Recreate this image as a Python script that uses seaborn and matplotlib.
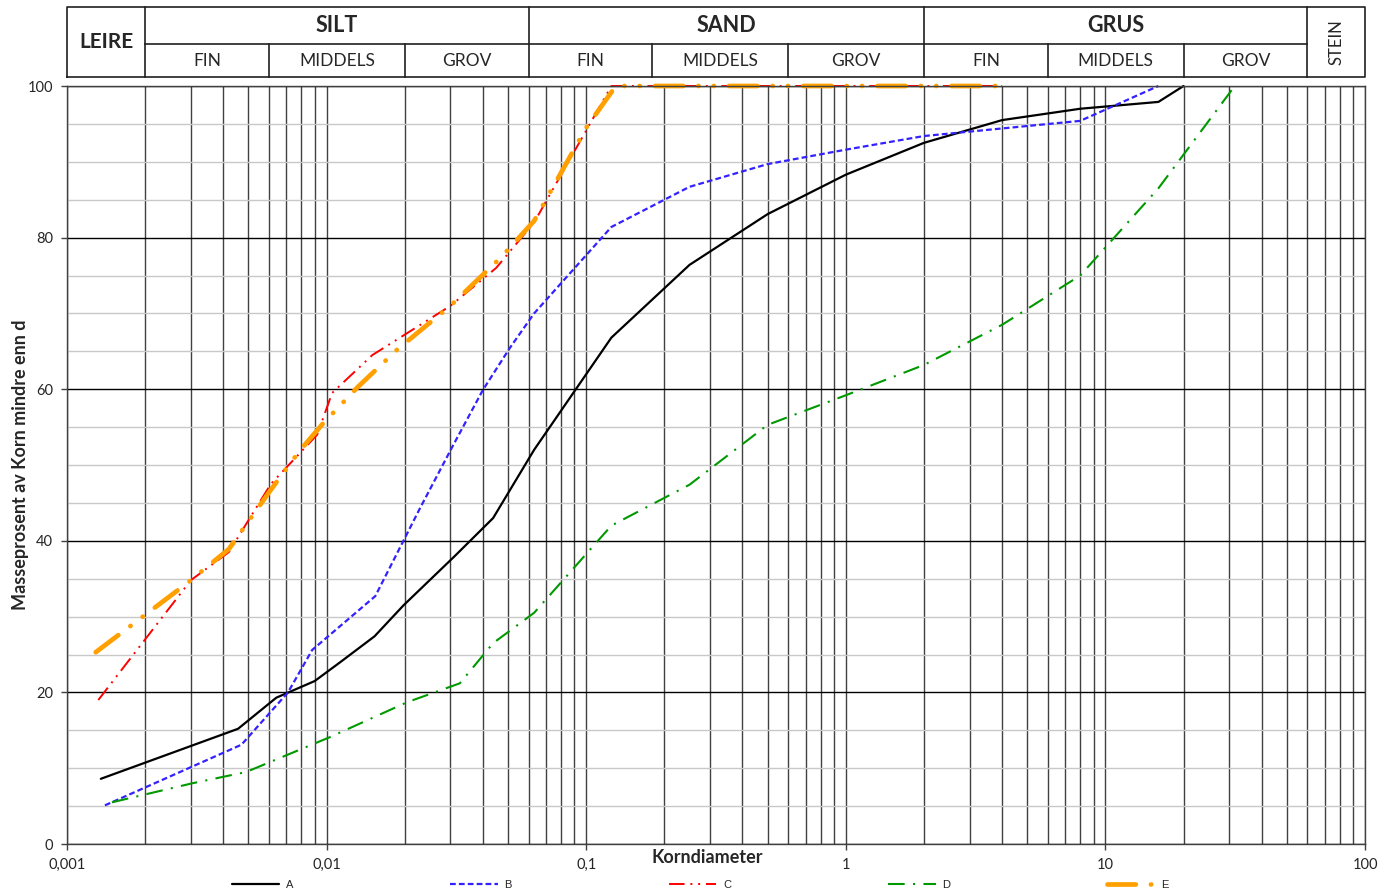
import matplotlib
matplotlib.use("Agg")
import matplotlib.pyplot as plt
import matplotlib.ticker as mticker
import seaborn as sns
import pandas as pd

# grain size curves (korndiameter mm, masseprosent passert)
a_d = [0.00135, 0.00456, 0.0064, 0.009, 0.0113, 0.0153, 0.0198, 0.0312, 0.0438, 0.063,
       0.125, 0.25, 0.5, 1, 2, 4, 8, 16, 20]
a_p = [8.6, 15.2, 19.3, 21.5, 24, 27.4, 31.5, 38, 43, 52, 66.8, 76.4, 83.1, 88.3, 92.5,
       95.5, 97.0, 97.9, 100]

b_d = [0.0014, 0.0047, 0.0071, 0.0088, 0.0154, 0.0229, 0.0305, 0.04, 0.0507, 0.063,
       0.125, 0.25, 0.5, 1, 2, 4, 8, 16]
b_p = [5.1, 13.1, 20, 25.6, 32.7, 44.3, 52.4, 59.9, 65.4, 70, 81.4, 86.7, 89.7, 91.6,
       93.4, 94.4, 95.4, 100]

c_d = [0.00132, 0.003, 0.0042, 0.0061, 0.0092, 0.0105, 0.015, 0.03, 0.045, 0.063,
       0.125, 0.25, 0.5, 1, 2, 4]
c_p = [19, 34.8, 38.5, 47.5, 54, 59.5, 64.5, 71, 76, 82, 100, 100, 100, 100, 100, 100]

d_d = [0.00149, 0.00303, 0.0049, 0.0103, 0.0204, 0.0326, 0.0438, 0.063, 0.125, 0.25,
       0.5, 1, 2, 4, 8, 16, 31.5]
d_p = [5.5, 8.0, 9.5, 14.1, 18.7, 21.2, 26.5, 30.5, 42, 47.4, 55.3, 59.2, 63.2, 68.5,
       75, 86.5, 100]

e_d = [0.00129, 0.0029, 0.0042, 0.006, 0.0078, 0.0097, 0.0132, 0.0188, 0.03, 0.047,
       0.063, 0.1, 0.13, 0.25, 0.5, 1, 2, 4]
e_p = [25.3, 34.4, 38.9, 46.4, 51.7, 55.5, 60.3, 65.3, 71.0, 77.4, 82.2, 94.5, 100,
       100, 100, 100, 100, 100]

# header classes
main_names = ["SILT", "SAND", "GRUS"]
main_bounds = [(0.002, 0.06), (0.06, 2), (2, 60)]
sub_names = ["FIN", "MIDDELS", "GROV"]
x_ticks = [0.001, 0.01, 0.1, 1, 10, 100]
x_tick_labels = ["0,001", "0,01", "0,1", "1", "10", "100"]

sns.set_style("white")
plt.rcParams["font.family"] = ["Lato", "DejaVu Sans"]

fig = plt.figure(figsize=(13.92, 8.94), dpi=100)
L, W = 67 / 1392, 1298 / 1392
ax = fig.add_axes([L, 1 - 844 / 894, W, 758 / 894])

series = [
    ("A", a_d, a_p, dict(color="black", lw=1.6)),
    ("B", b_d, b_p, dict(color="#3322FF", lw=1.6, dashes=(2.6, 1.4))),
    ("C", c_d, c_p, dict(color="#FF0000", lw=1.4, dashes=(8, 3, 1, 3, 1, 3))),
    ("D", d_d, d_p, dict(color="#009900", lw=1.5, dashes=(8, 4, 1, 4))),
    ("E", e_d, e_p, dict(color="#FFA000", lw=3.4, dashes=(6, 3.2, 0.05, 3.2, 0.05, 3.2),
                         dash_capstyle="round")),
]
for name, d, p, kw in series:
    df = pd.DataFrame({"d": d, "p": p})
    sns.lineplot(data=df, x="d", y="p", ax=ax, label=name, estimator=None,
                 clip_on=False, **kw)

ax.set_xscale("log")
ax.set_xlim(0.001, 100)
ax.set_ylim(0, 100)
ax.set_xticks(x_ticks)
ax.set_xticklabels(x_tick_labels)
ax.xaxis.set_minor_locator(mticker.LogLocator(base=10, subs=range(2, 10), numticks=20))
ax.xaxis.set_minor_formatter(mticker.NullFormatter())
ax.set_yticks(range(0, 101, 20))
ax.yaxis.set_minor_locator(mticker.MultipleLocator(5))
ax.tick_params(which="major", direction="out", length=4, width=1, color="#404040",
               labelsize=10.5, pad=6, bottom=True, left=True)
ax.tick_params(which="minor", length=0)

ax.set_axisbelow(True)
ax.grid(True, which="both", axis="x", color="#404040", lw=1)
ax.grid(True, which="minor", axis="y", color="#C8C8C8", lw=1)
ax.grid(True, which="major", axis="y", color="black", lw=1)
for s in ax.spines.values():
    s.set_color("#404040")
    s.set_linewidth(1)

ax.set_xlabel("Korndiameter", fontsize=13, fontweight="bold")
ax.xaxis.set_label_coords(0.493, -0.007)
ax.set_ylabel("Masseprosent av Korn mindre enn d", fontsize=13, fontweight="bold")
ax.yaxis.set_label_coords(-0.029, 0.5)

ax.get_legend().remove()
handles, labels = ax.get_legend_handles_labels()
fig.legend(handles, labels, loc="center", bbox_to_anchor=(0.503, 1 - 885 / 894), ncol=5,
           frameon=False, prop={"family": "Liberation Sans", "size": 8},
           handlelength=4.3, handletextpad=0.6, columnspacing=14.1)

# classification header
hx = fig.add_axes([L, 1 - 77 / 894, W, 70 / 894])
hx.set_xscale("log")
hx.set_xlim(0.001, 100)
hx.set_ylim(0, 1)
hx.axis("off")
mid = 0.471
lk = dict(color="#202020", lw=1.2, clip_on=False, solid_capstyle="projecting")
hx.plot([0.001, 100, 100, 0.001, 0.001], [0, 0, 1, 1, 0], **lk)
hx.plot([0.002, 60], [mid, mid], **lk)
for xb in [0.002, 0.06, 2, 60]:
    hx.plot([xb, xb], [0, 1], **lk)
hx.text((0.001 * 0.002) ** 0.5, 0.5, "LEIRE", ha="center", va="center",
        fontsize=15, fontweight="bold")
hx.text((60 * 100) ** 0.5, 0.5, "STEIN", ha="center", va="center", rotation=90,
        fontsize=12)
for name, (lo, hi) in zip(main_names, main_bounds):
    hx.text((lo * hi) ** 0.5, 0.73, name, ha="center", va="center", fontsize=15.5,
            fontweight="bold")
    edges = [lo, lo * 3, lo * 10, hi]
    for xb in edges[1:3]:
        hx.plot([xb, xb], [0, mid], **lk)
    for sname, e0, e1 in zip(sub_names, edges[:-1], edges[1:]):
        hx.text((e0 * e1) ** 0.5, 0.23, sname, ha="center", va="center", fontsize=12.5)

fig.savefig("out.png", dpi=100)
